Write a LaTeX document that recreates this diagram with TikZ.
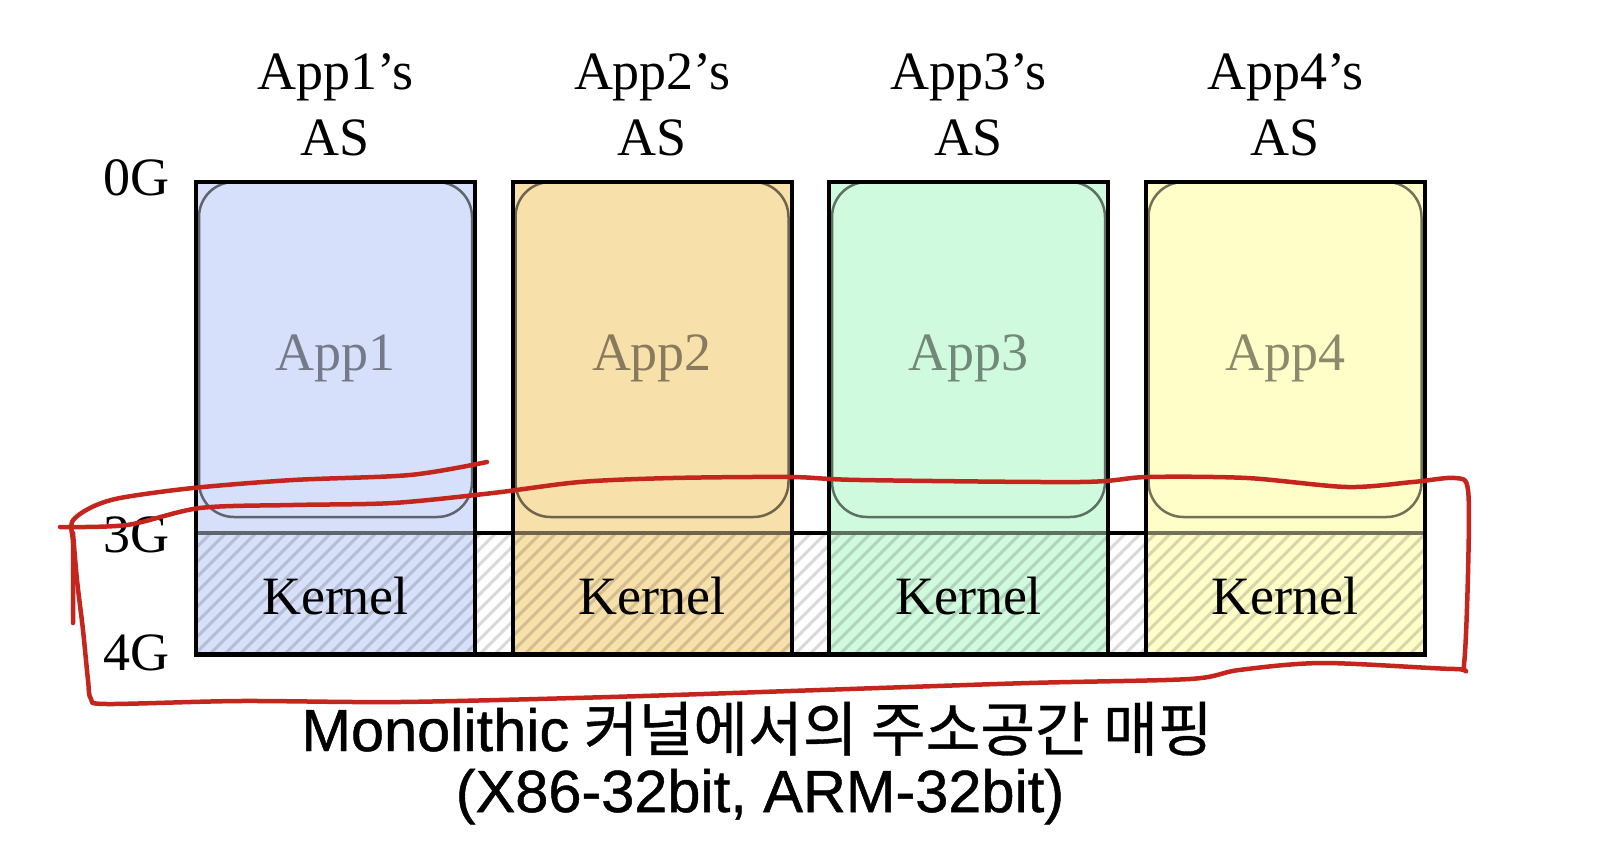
\documentclass[tikz,border=0pt]{standalone}
\usepackage{fontspec}
\setmainfont{Liberation Serif}
\newfontfamily\capsans[FakeBold=0.8]{Liberation Sans}
\newfontfamily\cjk[FakeBold=0.6]{Noto Sans CJK KR}
\definecolor{cA}{HTML}{D6E0FA}
\definecolor{cB}{HTML}{F8E0AA}
\definecolor{cC}{HTML}{D0FADE}
\definecolor{cD}{HTML}{FFFDC8}
\definecolor{pen}{HTML}{C4261D}
\tikzset{
  serifbig/.style={font=\fontsize{54}{60}\selectfont, inner sep=0pt, anchor=base},
  applabel/.style={serifbig, text=black, text opacity=0.45},
  hatchline/.style={draw=black, draw opacity=0.15, line width=3pt},
  outerline/.style={draw=black, line width=4pt},
  redpen/.style={draw=pen, line width=4.5pt, line cap=round, line join=round},
}
\begin{document}
\begin{tikzpicture}[x=1pt,y=-1pt]
\useasboundingbox (0,0) rectangle (1602,848);
\fill[white] (0,0) rectangle (1602,848);
% column fills
\foreach \x/\c in {196/cA, 512.5/cB, 829/cC, 1145.5/cD}{
  \fill[\c] (\x,182) rectangle ++(279,472);
}
% hatching of the kernel strip (kernels and gaps)
\begin{scope}
  \clip (196,533) rectangle (1424.5,654);
  \foreach \k in {60,75,...,1440}{
    \draw[hatchline] (\k,654) -- ++(140,-140);
  }
\end{scope}
% inner rounded boxes
\foreach \x/\c in {196/cA, 512.5/cB, 829/cC, 1145.5/cD}{
  \draw[draw=\c!35!black, draw opacity=0.85, line width=2.5pt, rounded corners=35pt]
    (\x+3,182) rectangle (\x+276,517);
}
% 3G line
\draw[line width=4pt] (196,533) -- (1424.5,533);
\foreach \x/\c in {196/cA, 512.5/cB, 829/cC, 1145.5/cD}{
  \draw[draw=\c!45!black, line width=4pt] (\x+2,533) -- (\x+277,533);
}
% outer boxes
\foreach \x in {196, 512.5, 829, 1145.5}{
  \draw[outerline] (\x,182) rectangle ++(279,472);
}
\draw[line width=5pt] (194,654.5) -- (1426.5,654.5);
% texts
\foreach \x/\n in {196/1, 512.5/2, 829/3, 1145.5/4}{
  \node[serifbig] (title\n) at (\x+139.5,90) {App\n’s};
  \node[serifbig] (as\n) at (\x+139.5,155) {AS};
  \node[applabel] (app\n) at (\x+139.5,370) {App\n};
  \node[serifbig] (kernel\n) at (\x+139.5,614) {Kernel};
}
\node[serifbig, anchor=base east] (g0) at (170,195) {0G};
\node[serifbig, anchor=base east] (g3) at (170,552) {3G};
\node[serifbig, anchor=base east] (g4) at (170,670) {4G};
% caption
\node[anchor=base, inner sep=0pt, font=\capsans\fontsize{59.5}{60}\selectfont] (cap1) at (757,751)
  {Monolithic\hspace{-2pt} {\cjk\fontsize{59.5}{60}\selectfont 커널에서의 주소공간 매핑}};
\node[anchor=base, inner sep=0pt, font=\capsans\fontsize{59.5}{60}\selectfont] (cap2) at (760,812)
  {(X86-32bit, ARM-32bit)};
% red hand-drawn strokes
\draw[redpen] plot[smooth, tension=0.5] coordinates {
  (487,462) (410,475) (293,480) (193,488) (120,498) (90,508) (72,522)
  (73,543) (73,585) (73,623)};
\draw[redpen] plot[smooth, tension=0.5] coordinates {
  (60,527) (127,525) (200,508) (293,505) (393,503) (493,493) (580,482)
  (673,478) (790,477) (860,480) (1080,482) (1147,477) (1247,478) (1347,487)
  (1413,482) (1455,478) (1468,490) (1468,573) (1464,664) (1455,669)
  (1323,663) (1239,670) (1190,679) (1029,683) (820,690) (610,697) (400,702)
  (240,701) (107,704) (91,699) (88,680) (83,630) (77,580) (73,533)};
\end{tikzpicture}
\end{document}
